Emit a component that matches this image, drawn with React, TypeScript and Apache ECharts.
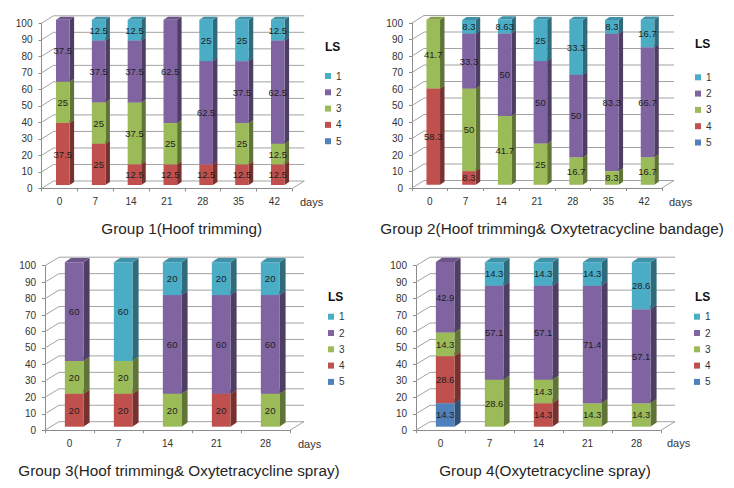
import React, { useEffect, useRef } from 'react';
import * as echarts from 'echarts';

const FONT = 'Liberation Sans, Arial, sans-serif';
const LS_NAMES = ['1', '2', '3', '4', '5'];
const LS_COLORS = ['#4bacc6', '#8064a2', '#9bbb59', '#c0504d', '#4f81bd'];
const Y_TICKS = [0, 10, 20, 30, 40, 50, 60, 70, 80, 90, 100];

// Group 1
const G1_TITLE = 'Group 1(Hoof trimming)';
const G1_DAYS = ['0', '7', '14', '21', '28', '35', '42'];
const G1_LS1 = [0, 12.5, 12.5, 0, 25, 25, 12.5];
const G1_LS2 = [37.5, 37.5, 37.5, 62.5, 62.5, 37.5, 62.5];
const G1_LS3 = [25, 25, 37.5, 25, 0, 25, 12.5];
const G1_LS4 = [37.5, 25, 12.5, 12.5, 12.5, 12.5, 12.5];
const G1_LS5 = [0, 0, 0, 0, 0, 0, 0];

// Group 2
const G2_TITLE = 'Group 2(Hoof trimming& Oxytetracycline bandage)';
const G2_DAYS = ['0', '7', '14', '21', '28', '35', '42'];
const G2_LS1 = [0, 8.3, 8.63, 25, 33.3, 8.3, 16.7];
const G2_LS2 = [0, 33.3, 50, 50, 50, 83.3, 66.7];
const G2_LS3 = [41.7, 50, 41.7, 25, 16.7, 8.3, 16.7];
const G2_LS4 = [58.3, 8.3, 0, 0, 0, 0, 0];
const G2_LS5 = [0, 0, 0, 0, 0, 0, 0];

// Group 3
const G3_TITLE = 'Group 3(Hoof trimming& Oxytetracycline spray)';
const G3_DAYS = ['0', '7', '14', '21', '28'];
const G3_LS1 = [0, 60, 20, 20, 20];
const G3_LS2 = [60, 0, 60, 60, 60];
const G3_LS3 = [20, 20, 20, 0, 20];
const G3_LS4 = [20, 20, 0, 20, 0];
const G3_LS5 = [0, 0, 0, 0, 0];

// Group 4
const G4_TITLE = 'Group 4(Oxytetracycline spray)';
const G4_DAYS = ['0', '7', '14', '21', '28'];
const G4_LS1 = [0, 14.3, 14.3, 14.3, 28.6];
const G4_LS2 = [42.9, 57.1, 57.1, 71.4, 57.1];
const G4_LS3 = [14.3, 28.6, 14.3, 14.3, 14.3];
const G4_LS4 = [28.6, 0, 14.3, 0, 0];
const G4_LS5 = [14.3, 0, 0, 0, 0];

const PANELS = [
  {
    title: G1_TITLE, days: G1_DAYS, ls: [G1_LS1, G1_LS2, G1_LS3, G1_LS4, G1_LS5],
    grid: { left: 41.5, top: 23.3, width: 250.8, height: 165.2 },
    wall: [12, -7.5], barDy: -3.5,
    legend: { left: 325, top: 70 }, lsPos: [325, 46.7], daysPos: [300, 202], titlePos: [181.7, 228.5],
  },
  {
    title: G2_TITLE, days: G2_DAYS, ls: [G2_LS1, G2_LS2, G2_LS3, G2_LS4, G2_LS5],
    grid: { left: 412, top: 23, width: 250, height: 165 },
    wall: [12, -7.5], barDy: -3.2,
    legend: { left: 695, top: 71.3 }, lsPos: [695, 43.5], daysPos: [669, 202], titlePos: [552, 228.5],
  },
  {
    title: G3_TITLE, days: G3_DAYS, ls: [G3_LS1, G3_LS2, G3_LS3, G3_LS4, G3_LS5],
    grid: { left: 45, top: 265.7, width: 245, height: 164.5 },
    wall: [14, -8.5], barDy: -3.5,
    legend: { left: 328, top: 310.7 }, lsPos: [328, 297.3], daysPos: [298, 443.5], titlePos: [179, 470.7],
  },
  {
    title: G4_TITLE, days: G4_DAYS, ls: [G4_LS1, G4_LS2, G4_LS3, G4_LS4, G4_LS5],
    grid: { left: 416, top: 265.7, width: 245, height: 164.5 },
    wall: [14, -8.5], barDy: -3.5,
    legend: { left: 694, top: 310.7 }, lsPos: [695, 297.3], daysPos: [667, 443], titlePos: [545, 470.7],
  },
];

function shade(hex: string, f: number) {
  const n = parseInt(hex.slice(1), 16);
  const r = Math.round(((n >> 16) & 255) * f);
  const g = Math.round(((n >> 8) & 255) * f);
  const b = Math.round((n & 255) * f);
  return 'rgb(' + r + ',' + g + ',' + b + ')';
}

const GRID_COLOR = '#a3a3a3';

function wallRender(ox: number, oy: number) {
  return (params: any, api: any) => {
    const v = api.value(1);
    const cs = params.coordSys;
    const y = api.coord([0, v])[1];
    const x0 = cs.x;
    const x1 = cs.x + cs.width;
    const st = { stroke: GRID_COLOR, lineWidth: 1, fill: null };
    const children: any[] = [
      { type: 'line', shape: { x1: x0, y1: y, x2: x0 + ox, y2: y + oy }, style: st },
      { type: 'line', shape: { x1: x0 + ox, y1: y + oy, x2: x1 + ox, y2: y + oy }, style: st },
    ];
    if (v === 0) {
      children.push({ type: 'line', shape: { x1: x1, y1: y, x2: x1 + ox, y2: y + oy }, style: st });
    }
    return { type: 'group', children };
  };
}

function barRender(color: string, barDy: number) {
  const side = shade(color, 0.62);
  const topC = shade(color, 0.85);
  return (params: any, api: any) => {
    const cat = api.value(0);
    const base = api.value(1);
    const val = api.value(2);
    if (!val) return null;
    const p0 = api.coord([cat, base]);
    const p1 = api.coord([cat, base + val]);
    const band = api.size([1, 0])[0];
    const left = p0[0] - band * 0.095;
    const w = band * 0.38;
    const right = left + w;
    const yb = p0[1] + barDy;
    const yt = p1[1] + barDy;
    const dx = band * 0.125;
    const dy = -band * 0.085;
    return {
      type: 'group',
      children: [
        { type: 'polygon', shape: { points: [[right, yt], [right + dx, yt + dy], [right + dx, yb + dy], [right, yb]] }, style: { fill: side } },
        { type: 'polygon', shape: { points: [[left, yt], [right, yt], [right + dx, yt + dy], [left + dx, yt + dy]] }, style: { fill: topC } },
        { type: 'rect', shape: { x: left, y: yt, width: w, height: yb - yt }, style: { fill: color } },
        {
          type: 'text', x: left + w / 2, y: (yt + yb) / 2,
          style: {
            text: String(val), font: '9.5px ' + FONT, fill: '#1e1e1e',
            align: 'center', verticalAlign: 'middle', textAlign: 'center', textVerticalAlign: 'middle',
          },
        },
      ],
    };
  };
}

function textEl(text: string, x: number, y: number, font: string, align: string, fill: string) {
  return {
    type: 'text', x, y, silent: true,
    style: { text, font, fill, align, verticalAlign: 'middle', textAlign: align, textVerticalAlign: 'middle' },
  };
}

export default function App() {
  const ref = useRef<HTMLDivElement>(null);
  useEffect(() => {
    if (!ref.current) return;
    const chart = echarts.init(ref.current, undefined, { renderer: 'svg' });
    const series: any[] = [];
    const graphic: any[] = [];
    PANELS.forEach((p, i) => {
      series.push({
        type: 'custom', name: 'wall' + i, xAxisIndex: i, yAxisIndex: i, silent: true, z: 1,
        data: Y_TICKS.map((v) => [0, v]),
        renderItem: wallRender(p.wall[0], p.wall[1]),
      });
      // stacked from bottom (LS 5) to top (LS 1)
      const bases = p.days.map(() => 0);
      const stackData: any[][] = [];
      for (let k = 4; k >= 0; k--) {
        stackData[k] = p.days.map((_, j) => {
          const item = [j, bases[j], p.ls[k][j]];
          bases[j] += p.ls[k][j];
          return item;
        });
      }
      for (let k = 4; k >= 0; k--) {
        series.push({
          type: 'custom', name: LS_NAMES[k], xAxisIndex: i, yAxisIndex: i, z: 2,
          itemStyle: { color: LS_COLORS[k] },
          encode: { x: 0, y: [1, 2] },
          data: stackData[k],
          renderItem: barRender(LS_COLORS[k], p.barDy),
        });
      }
      graphic.push(textEl(p.title, p.titlePos[0], p.titlePos[1], '15.3px ' + FONT, 'center', '#262626'));
      graphic.push(textEl('LS', p.lsPos[0], p.lsPos[1], 'bold 12px ' + FONT, 'left', '#111'));
      graphic.push(textEl('days', p.daysPos[0], p.daysPos[1], '11px ' + FONT, 'left', '#333'));
    });

    const option: any = {
      animation: false,
      backgroundColor: '#ffffff',
      textStyle: { fontFamily: FONT },
      grid: PANELS.map((p) => ({ ...p.grid, containLabel: false })),
      xAxis: PANELS.map((p, i) => ({
        type: 'category', gridIndex: i, data: p.days, boundaryGap: true,
        axisLine: { show: true, lineStyle: { color: '#8c8c8c' } },
        axisTick: { show: true, length: 3, lineStyle: { color: '#8c8c8c' } },
        axisLabel: { fontSize: 10, color: '#333', margin: 8, interval: 0 },
        splitLine: { show: false },
      })),
      yAxis: PANELS.map((p, i) => ({
        type: 'value', gridIndex: i, min: 0, max: 100, interval: 10,
        axisLine: { show: true, lineStyle: { color: '#8c8c8c' } },
        axisTick: { show: true, length: 3, lineStyle: { color: '#8c8c8c' } },
        axisLabel: { fontSize: 10, color: '#333', margin: 9 },
        splitLine: { show: false },
      })),
      legend: PANELS.map((p) => ({
        orient: 'vertical', left: p.legend.left, top: p.legend.top, data: LS_NAMES,
        icon: 'rect', itemWidth: 6, itemHeight: 6, itemGap: 4.3, selectedMode: false, padding: 0,
        textStyle: { fontSize: 10, color: '#333', lineHeight: 12, fontFamily: FONT },
      })),
      series,
      graphic: { elements: graphic },
    };
    chart.setOption(option);
    return () => chart.dispose();
  }, []);
  return (
    <div
      ref={ref}
      style={{ position: 'fixed', left: 0, top: 0, width: 734, height: 488, background: '#fff' }}
    />
  );
}
